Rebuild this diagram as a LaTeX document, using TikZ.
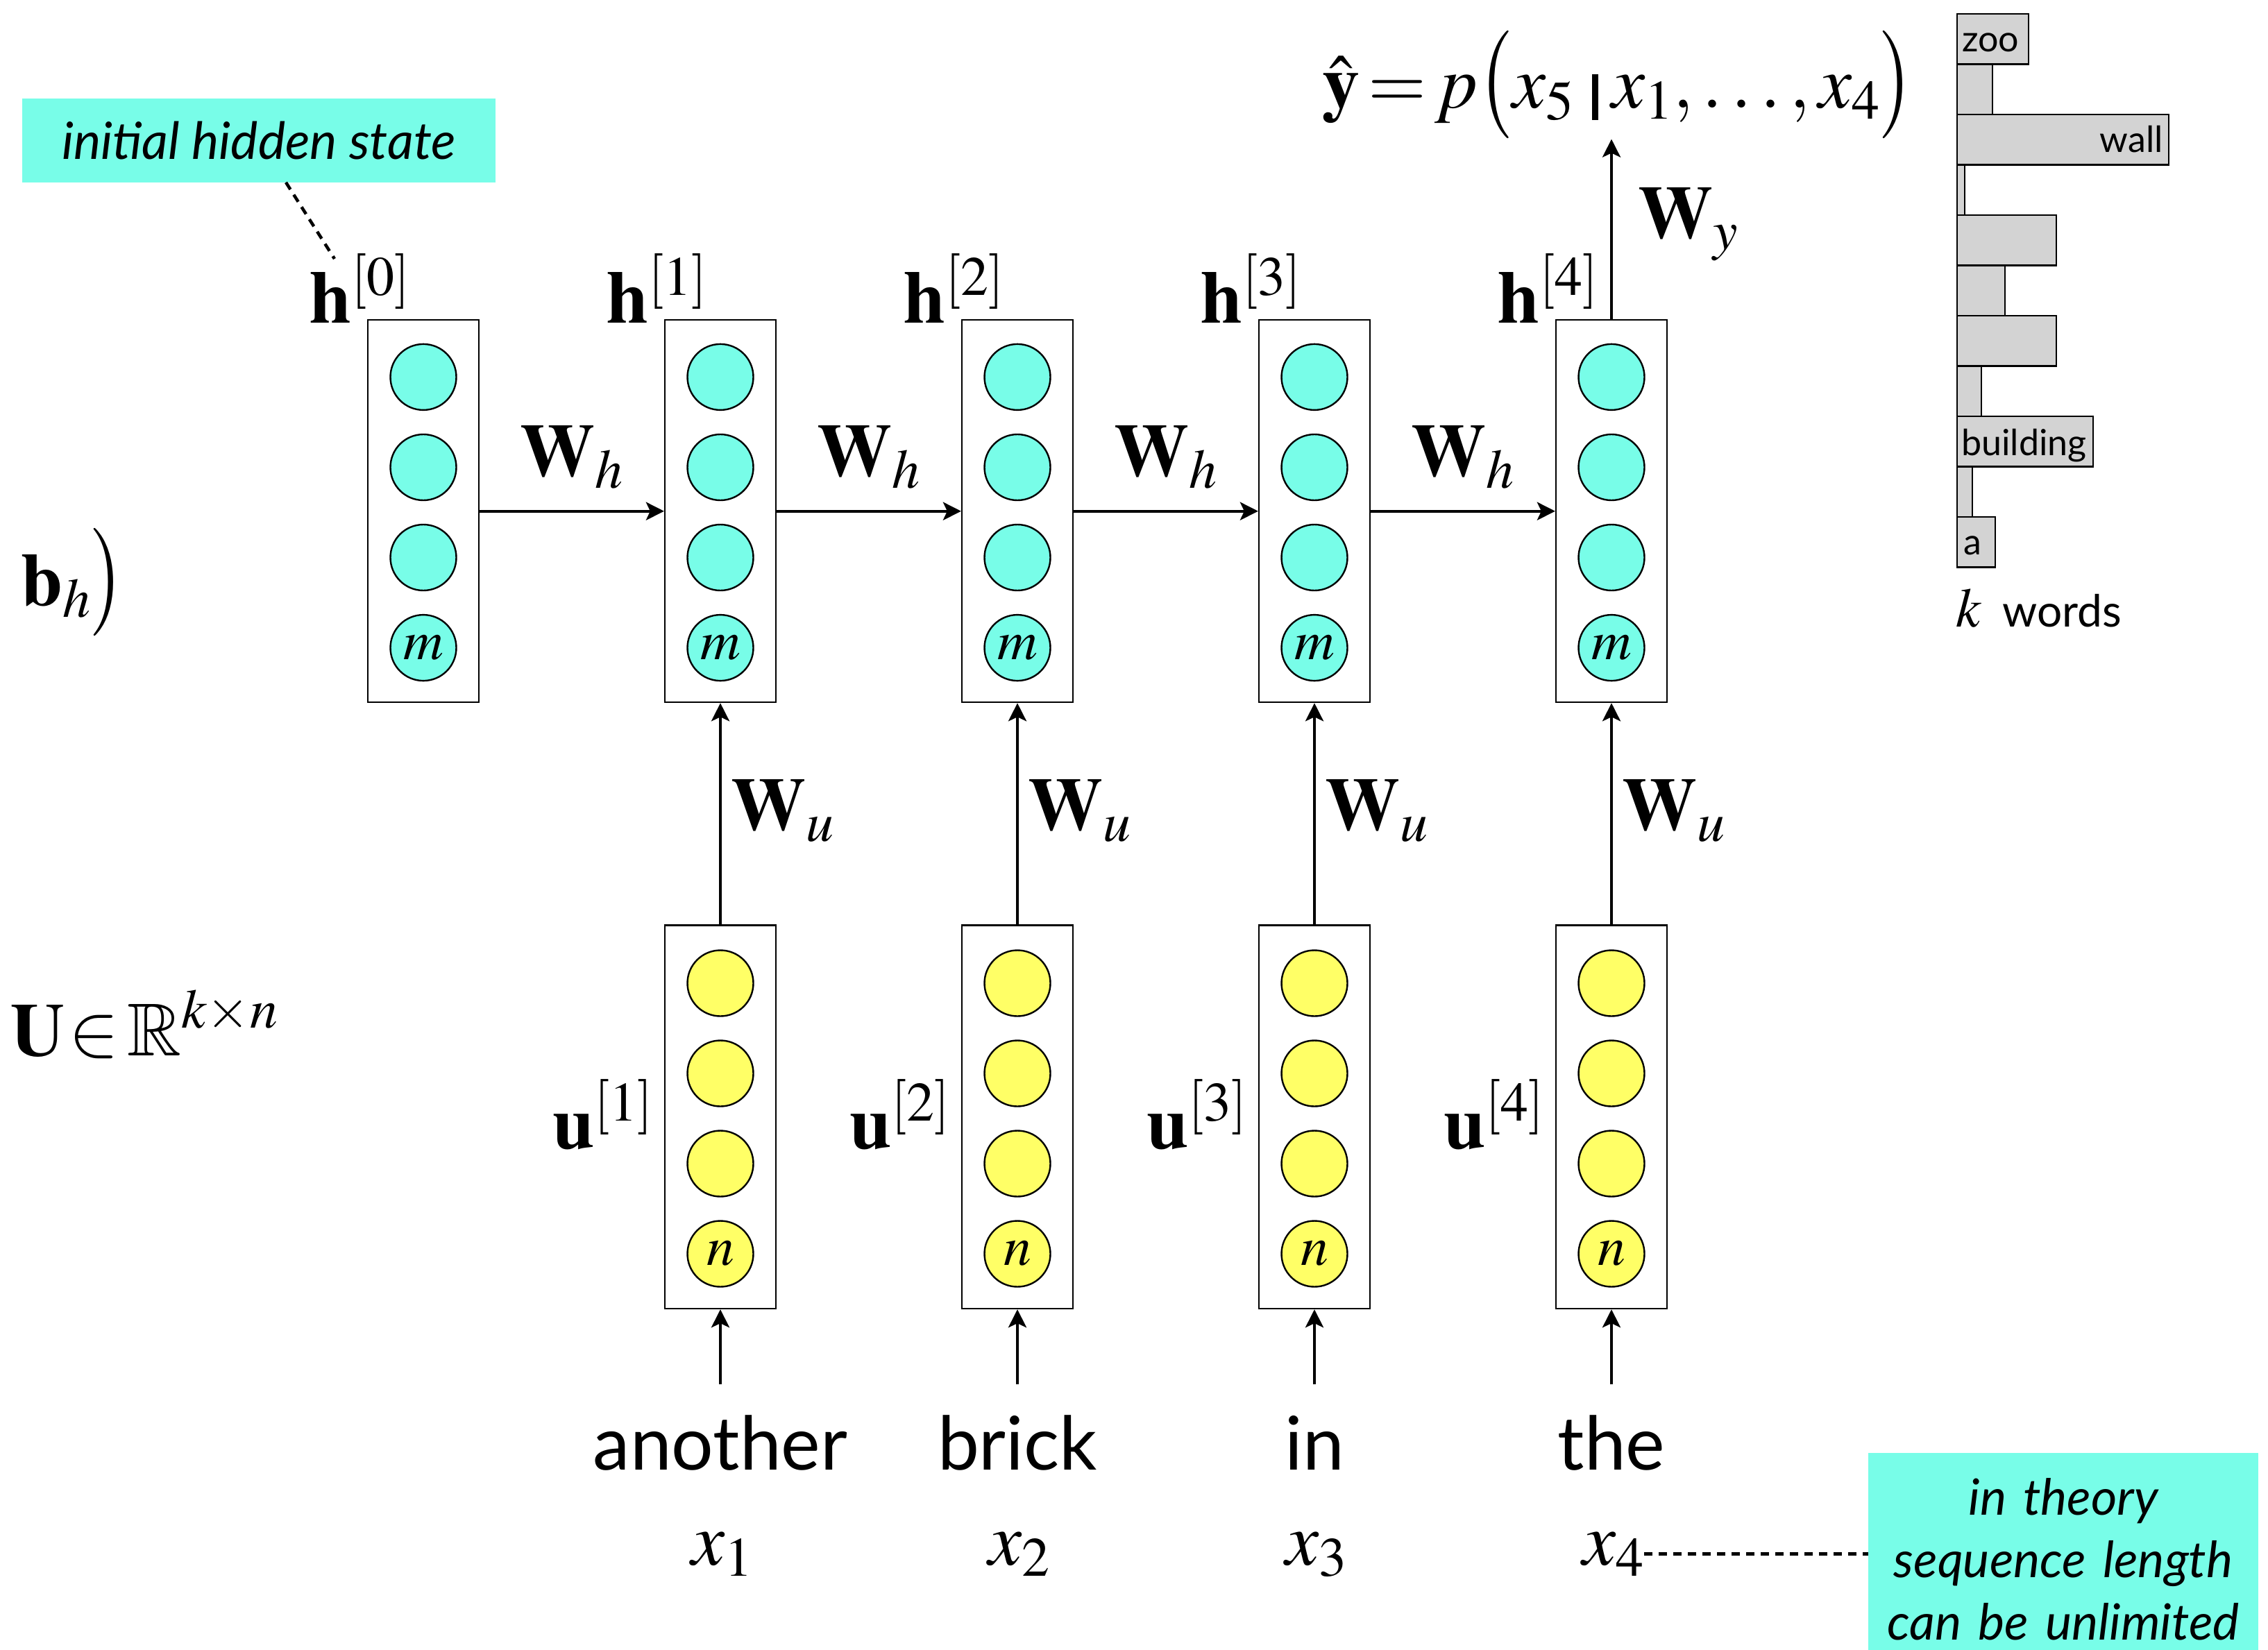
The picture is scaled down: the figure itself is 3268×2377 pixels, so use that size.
\documentclass[tikz,border=0pt]{standalone}
\usepackage{graphicx}
\usepackage{mathptmx}
\usepackage{amssymb}
\usepackage[no-math]{fontspec}
\setmainfont{Lato}
\usetikzlibrary{arrows.meta}
\definecolor{cyanfill}{RGB}{120,253,232}
\definecolor{yellowfill}{RGB}{255,255,102}
\definecolor{barfill}{RGB}{211,211,211}
\newcommand\tallopen{\mathopen{\scalebox{1}[1.2]{$\bigl($}}}
\newcommand\tallclose{\mathclose{\scalebox{1}[1.2]{$\bigr)$}}}
\newcommand\givenbar{\mbox{\tikz[baseline=0pt]\fill (0pt,-18pt) rectangle (9pt,48pt);}}
\tikzset{
  hbox/.style={draw, line width=2.2pt, minimum width=160pt, minimum height=551pt, inner sep=0pt},
  ubox/.style={hbox, minimum height=552.5pt},
  hcirc/.style={circle, draw, line width=2.4pt, fill=cyanfill, minimum size=95pt, inner sep=0pt, font=\fontsize{80}{96}\selectfont},
  ucirc/.style={hcirc, fill=yellowfill},
  arr/.style={line width=4.2pt, -{Stealth[length=26pt,width=26pt,inset=6pt]}},
  dotline/.style={line width=4.5pt, dash pattern=on 12pt off 9pt},
  mlbl/.style={inner sep=0pt, font=\fontsize{108}{130}\selectfont},
  word/.style={inner sep=0pt, font=\fontsize{107}{128}\selectfont},
  bar/.style={draw, line width=2.5pt, fill=barfill},
  bartxt/.style={inner sep=0pt, font=\fontsize{52}{62}\selectfont},
  callout/.style={fill=cyanfill, inner sep=0pt, font=\fontsize{74}{88}\selectfont\itshape}
}
\begin{document}
\begin{tikzpicture}[x=1pt,y=-1pt]
\useasboundingbox (0,0) rectangle (3268,2377);

% hidden state columns
\foreach \i/\x in {0/610,1/1038,2/1466,3/1894,4/2322} {
  \node[hbox] (h\i) at (\x,736.7) {};
  \node[hcirc] (h\i-1) at (\x,543.4) {};
  \node[hcirc] (h\i-2) at (\x,673.5) {};
  \node[hcirc] (h\i-3) at (\x,803.5) {};
  \node[hcirc] (h\i-4) at (\x,933.6) {$m$};
  \node[mlbl, anchor=base east] (hl\i) at (\x-19,465) {$\mathbf{h}^{[\i]}$};
}

% recurrent arrows
\foreach \i/\j/\m in {0/1/824,1/2/1252,2/3/1680,3/4/2108} {
  \draw[arr] (h\i) -- (h\j);
  \node[mlbl, anchor=base] (wh\i) at (\m,686) {$\mathbf{W}_h$};
}

% input columns
\foreach \i/\x/\w in {1/1038/another,2/1466/brick,3/1894/in,4/2322/the} {
  \node[ubox] (u\i) at (\x,1609.8) {};
  \node[ucirc] (u\i-1) at (\x,1417) {};
  \node[ucirc] (u\i-2) at (\x,1547) {};
  \node[ucirc] (u\i-3) at (\x,1677) {};
  \node[ucirc] (u\i-4) at (\x,1807) {$n$};
  \node[mlbl, anchor=base east] (ul\i) at (\x-97,1655) {$\mathbf{u}^{[\i]}$};
  \draw[arr] (u\i) -- (h\i);
  \node[mlbl, anchor=base west] (wu\i) at (\x+15,1196) {$\mathbf{W}_u$};
  \coordinate (in\i) at (\x,1995);
  \draw[arr] (in\i) -- (u\i);
  \node[word, anchor=base] (w\i) at (\x,2118) {\w};
  \node[mlbl, anchor=base] (x\i) at (\x+3,2255) {$x_{\i}$};
}

% output
\node[mlbl, anchor=base] (yhat) at (2332,155)
  {$\hat{\mathbf{y}}\mkern-2mu=\mkern-2mu p\tallopen x_5\hspace{26pt}\givenbar\hspace{20pt}x_1, \ldots, x_4\tallclose$};
\draw[arr] (h4.north) -- (h4.north |- yhat.south);
\node[mlbl, anchor=base west] (wy) at (2360,343) {$\mathbf{W}_y$};

% left labels
\node[mlbl, anchor=base west] (bh) at (30,872) {$\mathbf{b}_h\tallclose$};
\node[mlbl, anchor=base west] (Ur) at (15,1521) {$\mathbf{U}\mkern-3mu\in\mkern-2mu\mathbb{R}^{k\times n}$};

% initial hidden state callout
\node[callout, minimum width=682.7pt, minimum height=120.4pt] (ihs) at (373,202.5) {initial hidden state};
\coordinate (h0tip) at (482,373);
\draw[dotline] ([xshift=39pt]ihs.south) -- (h0tip);

% sequence length callout
\node[callout, anchor=north west, text width=562.4pt, align=center, inner ysep=36pt,
      font=\fontsize{72}{90}\selectfont\itshape] (note) at (2691.6,2094)
  {in theory\\ sequence length\\ can be unlimited};
\draw[dotline] (x4.east) -- (x4.east -| note.west);

% vocabulary distribution
\foreach \k/\r in {0/2923,1/2871,2/3125,3/2831,4/2963,5/2889,6/2963,7/2855,8/3016,9/2842,10/2875}
  \draw[bar] (2820,{20+72.5*\k}) rectangle (\r,{92.5+72.5*\k});
\node[bartxt, anchor=base west] (bzoo) at (2827,74) {zoo};
\node[bartxt, anchor=base east] (bwall) at (3117,219) {wall};
\node[bartxt, anchor=base west] (bbuild) at (2826,656) {building};
\node[bartxt, anchor=base west] (ba) at (2829,799) {a};
\node[inner sep=0pt, anchor=base west, font=\fontsize{64}{76}\selectfont] (kw) at (2818,903)
  {{\fontsize{80}{96}\selectfont$k$}\hspace{30pt}words};
\end{tikzpicture}
\end{document}
